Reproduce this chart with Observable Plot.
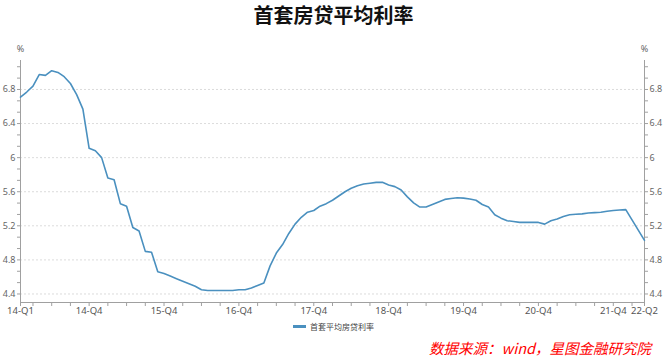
<!DOCTYPE html>
<html><head><meta charset="utf-8">
<script src="https://cdn.jsdelivr.net/npm/d3@7"></script>
<script src="https://cdn.jsdelivr.net/npm/@observablehq/plot@0.6"></script>
<style>
body{margin:0;background:#fff;}
#wrap{position:relative;width:667px;height:360px;overflow:hidden;font-family:"Noto Sans CJK SC","Noto Sans",sans-serif;}
#title{height:30px;line-height:30px;text-align:center;font-size:20px;font-weight:bold;color:#111;}
#legend{position:absolute;top:319px;left:0;width:667px;text-align:center;font-size:8px;color:#444;line-height:16px;}
#legend .sw{display:inline-block;width:13px;height:3px;background:#4a90bf;vertical-align:middle;margin-right:4px;position:relative;top:-1px;}
#caption{position:absolute;top:337px;right:16px;font-size:14.5px;line-height:22px;font-style:italic;color:#ff0000;white-space:nowrap;}
</style></head>
<body><div id="wrap">
<div id="title">首套房贷平均利率</div>
<div id="chart"></div>
<div id="legend"><span class="sw"></span>首套平均房贷利率</div>
<div id="caption">数据来源：wind，星图金融研究院</div>
</div>
<script>
// Monthly first-home mortgage average rate (%), Jan 2014 .. May 2022 (index 0..100)
const rates = [
 6.71, 6.77, 6.84, 6.975, 6.965, 7.02, 7.00, 6.95, 6.87, 6.74,
 6.57, 6.11, 6.08, 6.00, 5.76, 5.74, 5.46, 5.43, 5.18, 5.14,
 4.90, 4.89, 4.66, 4.64, 4.61, 4.58, 4.55, 4.52, 4.49, 4.45,
 4.44, 4.44, 4.44, 4.44, 4.44, 4.45, 4.45, 4.47, 4.50, 4.53,
 4.73, 4.88, 4.98, 5.11, 5.22, 5.30, 5.36, 5.38, 5.43, 5.46,
 5.50, 5.55, 5.60, 5.64, 5.67, 5.69, 5.70, 5.71, 5.71, 5.68,
 5.66, 5.62, 5.54, 5.47, 5.42, 5.42, 5.45, 5.48, 5.51, 5.52,
 5.53, 5.525, 5.515, 5.50, 5.45, 5.42, 5.33, 5.29, 5.26, 5.25,
 5.24, 5.24, 5.24, 5.24, 5.22, 5.26, 5.28, 5.31, 5.33, 5.335,
 5.34, 5.35, 5.355, 5.36, 5.37, 5.38, 5.385, 5.39, 5.27, 5.15,
 5.03
];
const xLabelIdx = [0, 11, 23, 35, 47, 59, 71, 83, 95, 100];
const xLabels = ["14-Q1", "14-Q4", "15-Q4", "16-Q4", "17-Q4", "18-Q4", "19-Q4", "20-Q4", "21-Q4", "22-Q2"];
const xMinorIdx = [0, 2, 5, 8, 11, 14, 17, 20, 23, 26, 29, 32, 35, 38, 41, 44, 47, 50, 53, 56, 59, 62, 65, 68, 71, 74, 77, 80, 83, 86, 89, 92, 95, 98, 100];
const yMajor = [4.4, 4.8, 5.2, 5.6, 6.0, 6.4, 6.8];
const yMinor = [4.4, 4.5333, 4.6667, 4.8, 4.9333, 5.0667, 5.2, 5.3333, 5.4667, 5.6, 5.7333, 5.8667, 6.0, 6.1333, 6.2667, 6.4, 6.5333, 6.6667, 6.8, 6.9333, 7.0667];
const seriesName = "首套平均房贷利率";

const yFmt = d => String(+d.toFixed(1));
const axisColor = "#a0a0a0";
const textColor = "#666";
const lineColor = "#4a90bf";

const chart = Plot.plot({
  width: 667, height: 290,
  marginTop: 30, marginLeft: 20, marginRight: 23, marginBottom: 18,
  x: {domain: [0, 100], axis: null},
  y: {domain: [4.3, 7.14], axis: null},
  style: {fontFamily: "'Noto Sans', 'Noto Sans CJK SC', sans-serif", fontSize: "9px", color: textColor, background: "transparent"},
  marks: [
    Plot.gridY(yMajor, {stroke: "#dcdcdc", strokeOpacity: 1, strokeDasharray: "2,2"}),
    Plot.ruleX([0, 100], {stroke: axisColor}),
    Plot.ruleY([4.3], {stroke: axisColor}),
    Plot.axisY({anchor: "left", ticks: yMinor, tickSize: 3, tickFormat: () => "", stroke: axisColor, label: null}),
    Plot.axisY({anchor: "right", ticks: yMinor, tickSize: 3, tickFormat: () => "", stroke: axisColor, label: null}),
    Plot.axisY({anchor: "left", ticks: yMajor, tickSize: 0, tickPadding: 5, tickFormat: yFmt, fill: textColor, label: null}),
    Plot.axisY({anchor: "right", ticks: yMajor, tickSize: 0, tickPadding: 5, tickFormat: yFmt, fill: textColor, label: null}),
    Plot.axisX({ticks: xMinorIdx, tickSize: 4, tickFormat: () => "", stroke: axisColor, label: null}),
    Plot.axisX({ticks: xLabelIdx, tickSize: 0, tickPadding: 5, fontSize: 9.5, fill: "#555",
      tickFormat: d => xLabels[xLabelIdx.indexOf(d)], label: null}),
    Plot.text(["%"], {x: 0, y: 7.14, dy: -11, fill: textColor, fontSize: 9}),
    Plot.text(["%"], {x: 100, y: 7.14, dy: -11, fill: textColor, fontSize: 9}),
    Plot.lineY(rates, {x: (d, i) => i, y: d => d, stroke: lineColor, strokeWidth: 1.6})
  ]
});
chart.style.display = "block";
document.getElementById("chart").appendChild(chart);
</script>
</body></html>
